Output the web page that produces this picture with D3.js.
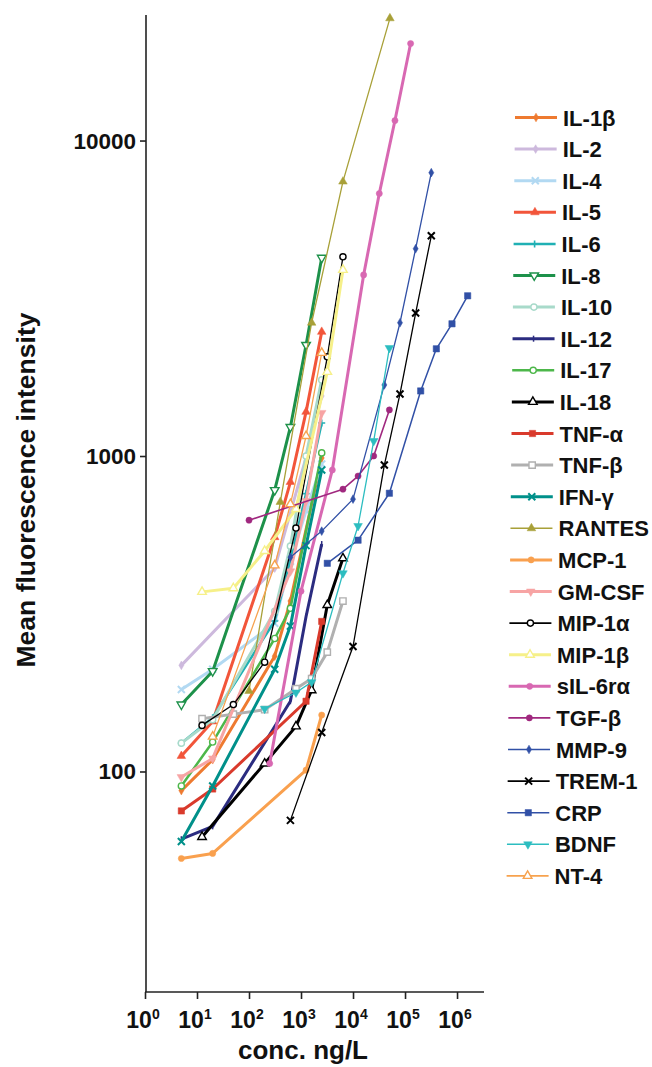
<!DOCTYPE html>
<html>
<head>
<meta charset="utf-8">
<script src="https://cdn.jsdelivr.net/npm/d3@7"></script>
<style>
  body { margin: 0; background: #fff; }
  text { font-family: "Liberation Sans", Arial, sans-serif; font-weight: bold; fill: #111; }
</style>
</head>
<body>
<div id="chart"></div>
<script>
// analytes, in legend order
var names = ["IL-1β", "IL-2", "IL-4", "IL-5", "IL-6", "IL-8", "IL-10", "IL-12", "IL-17", "IL-18",
    "TNF-α", "TNF-β", "IFN-γ", "RANTES", "MCP-1", "GM-CSF", "MIP-1α", "MIP-1β", "sIL-6rα",
    "TGF-β", "MMP-9", "TREM-1", "CRP", "BDNF", "NT-4"];

// standard concentrations (ng/L), one list per analyte
var conc = [
    [5, 20, 312, 625, 2500],
    [5, 312, 1250, 2500],
    [5, 20, 312, 625, 1250, 2500],
    [5, 20, 312, 625, 1250, 2500],
    [5, 20, 312, 625, 1250, 2500],
    [5, 20, 312, 625, 1250, 2500],
    [5, 20, 312, 625, 1250, 2500],
    [5, 20, 625, 1250, 2500],
    [5, 20, 312, 625, 2500],
    [12.5, 200, 800, 1600, 3200, 6400],
    [5, 20, 1250, 2500],
    [12.5, 50, 200, 800, 1600, 3200, 6400],
    [5, 20, 312, 625, 1250, 2500],
    [100, 400, 1600, 6400, 51200],
    [5, 20, 1250, 2500],
    [5, 20, 625, 1250, 2500],
    [12.5, 50, 200, 800, 3200, 6400],
    [12.5, 50, 200, 800, 3200, 6400],
    [250, 1000, 4000, 16000, 32000, 64000, 128000],
    [100, 6400, 12500, 25000, 50000],
    [625, 2500, 10000, 40000, 80000, 160000, 320000],
    [625, 2500, 10000, 40000, 80000, 160000, 320000],
    [3200, 12500, 50000, 200000, 400000, 800000, 1600000],
    [200, 800, 1600, 6400, 12500, 25000, 50000],
    [20, 312, 625, 1250, 2500]
];

// mean fluorescence intensity, matching conc
var mfi = [
    [87, 109, 232, 347, 986],
    [217, 441, 990, 1550],
    [182, 211, 295, 464, 670, 943],
    [112, 144, 553, 827, 1380, 2475],
    [123, 148, 300, 470, 760, 1273],
    [163, 208, 780, 1236, 2250, 4250],
    [123, 146, 322, 518, 1000, 1743],
    [61, 67, 167, 310, 526],
    [90, 124, 264, 329, 1023],
    [62, 106, 139, 181, 337, 474],
    [75, 88, 167, 299],
    [147, 152, 157, 183, 197, 239, 347],
    [60, 90, 211, 289, 520, 903],
    [180, 715, 2645, 7410, 24400],
    [53, 55, 101, 151],
    [96, 110, 431, 720, 1370],
    [140, 163, 222, 591, 2062, 4280],
    [371, 381, 500, 679, 1848, 3890],
    [106, 373, 903, 3750, 6790, 11570, 20300],
    [626, 785, 864, 1000, 1400],
    [478, 578, 730, 1680, 2645, 4540, 7910],
    [70, 133, 249, 936, 1573, 2840, 4990],
    [457, 541, 762, 1608, 2187, 2625, 3220],
    [158, 178, 192, 425, 600, 1116, 2200],
    [129, 450, 704, 1157, 2123]
];

var xTicks = [1, 10, 100, 1000, 10000, 100000, 1000000];
var xTickExp = ["0", "1", "2", "3", "4", "5", "6"];
var yTicks = [100, 1000, 10000];
var yTickLabels = ["100", "1000", "10000"];

// styles
var colors = ["#EE7A30", "#CDB9DD", "#B2D9F2", "#F2553A", "#20B0B4", "#1D914A", "#A8DACA", "#2B2C80",
    "#4DB74A", "#000000", "#D93A2C", "#B0B0B0", "#00908A", "#A8A038", "#F9A04E", "#F7A4A4",
    "#000000", "#F6F089", "#D868B2", "#A0287F", "#3150A6", "#000000", "#3150A6", "#2CBDC0", "#F7A24E"];
var widths = [3, 3, 3, 3, 2.5, 3, 3, 3, 2.5, 3, 3, 3, 3, 1.3, 3, 3, 1.3, 3, 3, 1.6, 1.3, 1.3, 1.5, 1.3, 1.3];
var markers = ["diamond", "diamond", "x", "triangle", "plus", "triangleDown", "circle", "tick", "circle",
    "triangle", "square", "square", "x", "triangle", "circle", "triangleDown", "circle", "triangle",
    "circle", "circle", "diamond", "x", "square", "triangleDown", "triangle"];
var hollow = [false, false, false, false, false, true, true, false, true, true, false, true, false,
    false, false, false, true, true, false, false, false, false, false, false, true];

var W = 652, H = 1067;
var svg = d3.select("#chart").append("svg").attr("width", W).attr("height", H);

var x = d3.scaleLog().domain([1, 3.3e6]).range([145, 484]);
var y = d3.scaleLog().domain([20, 25000]).range([992, 15]);

// axes
var xAxis = svg.append("g")
    .attr("transform", "translate(0,992)")
    .call(d3.axisBottom(x).tickValues(xTicks).tickSize(7).tickFormat(""));
var yAxis = svg.append("g")
    .attr("transform", "translate(146,0)")
    .call(d3.axisLeft(y).tickValues(yTicks).tickSize(6).tickFormat(""));
[xAxis, yAxis].forEach(function (a) {
    a.select(".domain").attr("stroke", "#222").attr("stroke-width", 1.6).attr("d",
        a === xAxis ? "M145,0H484" : "M0,15V992");
    a.selectAll(".tick line").attr("stroke", "#222").attr("stroke-width", 1.6);
});

xTicks.forEach(function (t, i) {
    var lab = svg.append("text")
        .attr("x", x(t) - 2)
        .attr("y", 1028)
        .attr("text-anchor", "middle")
        .style("font-size", "23px");
    lab.append("tspan").text("10");
    lab.append("tspan").attr("dy", -9).style("font-size", "14px").text(xTickExp[i]);
});

yTicks.forEach(function (t, i) {
    svg.append("text")
        .attr("x", 136)
        .attr("y", y(t) + 8)
        .attr("text-anchor", "end")
        .style("font-size", "22.5px")
        .text(yTickLabels[i]);
});

svg.append("text")
    .attr("x", 303).attr("y", 1059)
    .attr("text-anchor", "middle")
    .style("font-size", "26px")
    .text("conc. ng/L");

svg.append("text")
    .attr("transform", "translate(35,490) rotate(-90)")
    .attr("text-anchor", "middle")
    .style("font-size", "26.5px")
    .text("Mean fluorescence intensity");

// marker drawing
function drawMarker(g, type, color, open, cx, cy) {
    var p;
    if (type === "x") {
        p = g.append("path").attr("d", "M-3.5,-3.5L3.5,3.5M-3.5,3.5L3.5,-3.5")
            .attr("stroke", color).attr("stroke-width", 2).attr("fill", "none");
    } else if (type === "plus") {
        p = g.append("path").attr("d", "M-3.5,0H3.5M0,-3.5V3.5")
            .attr("stroke", color).attr("stroke-width", 1.6).attr("fill", "none");
    } else if (type === "tick") {
        p = g.append("path").attr("d", "M0,-3V3")
            .attr("stroke", color).attr("stroke-width", 1.5).attr("fill", "none");
    } else {
        var sym = {
            circle: [d3.symbolCircle, 30],
            square: [d3.symbolSquare, 40],
            triangle: [d3.symbolTriangle, 32],
            triangleDown: [d3.symbolTriangle, 32],
            diamond: [d3.symbolDiamond, 22]
        }[type];
        p = g.append("path").attr("d", d3.symbol().type(sym[0]).size(sym[1])())
            .attr("fill", open ? "#fff" : color)
            .attr("stroke", color)
            .attr("stroke-width", open ? 1.4 : 0.5);
    }
    p.attr("transform", "translate(" + cx + "," + cy + ")" + (type === "triangleDown" ? " rotate(180)" : ""));
}

var line = d3.line()
    .x(function (d) { return x(d[0]); })
    .y(function (d) { return y(d[1]); });

var plot = svg.append("g");
names.forEach(function (name, i) {
    var pts = conc[i].map(function (c, j) { return [c, mfi[i][j]]; });
    var g = plot.append("g");
    g.append("path")
        .attr("d", line(pts))
        .attr("fill", "none")
        .attr("stroke", colors[i])
        .attr("stroke-width", widths[i])
        .attr("stroke-linejoin", "round");
    pts.forEach(function (d) {
        drawMarker(g, markers[i], colors[i], hollow[i], x(d[0]), y(d[1]));
    });
});

// legend
var legend = svg.append("g");
names.forEach(function (name, i) {
    var ly = 117.5 + i * 31.6;
    var tx = 563 - i * 0.35;
    var g = legend.append("g");
    g.append("line")
        .attr("x1", tx - 48).attr("x2", tx - 6)
        .attr("y1", ly).attr("y2", ly)
        .attr("stroke", colors[i])
        .attr("stroke-width", Math.max(widths[i], 1.6));
    drawMarker(g, markers[i], colors[i], hollow[i], tx - 27, ly);
    g.append("text")
        .attr("x", tx)
        .attr("y", ly + 8)
        .style("font-size", "22px")
        .text(name);
});
</script>
</body>
</html>
